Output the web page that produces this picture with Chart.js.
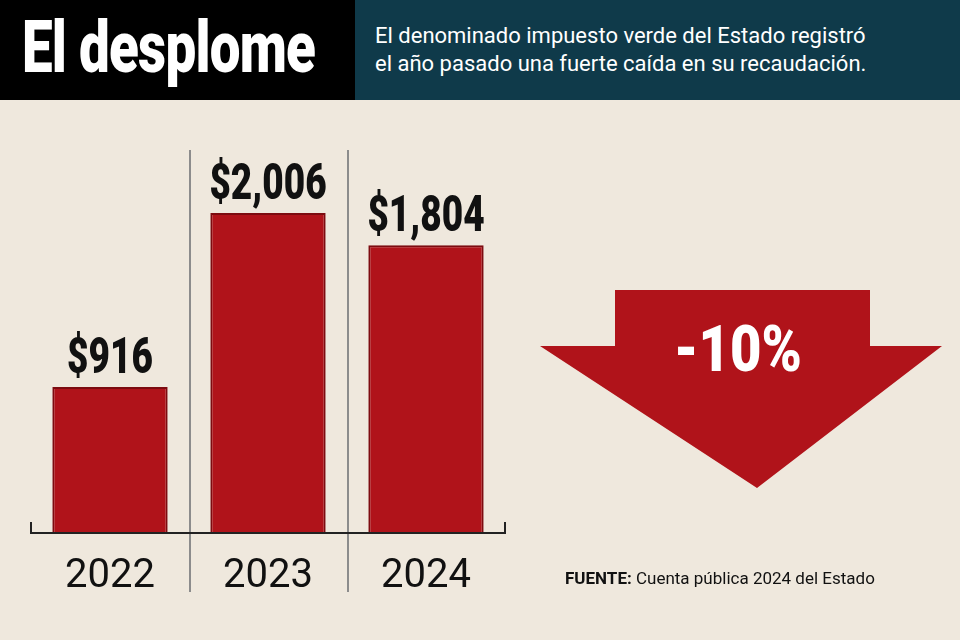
<!DOCTYPE html>
<html lang="es">
<head>
<meta charset="UTF-8">
<title>El desplome</title>
<script src="https://cdn.jsdelivr.net/npm/chart.js"></script>
<style>
  body { margin: 0; width: 960px; height: 640px; background: #efe8dd; font-family: Roboto, "Noto Sans", sans-serif; overflow: hidden; position: relative; }
  #hdrL { position: absolute; left: 0; top: 0; width: 355px; height: 100px; background: #000; overflow: hidden; }
  #hdrL span { position: absolute; left: 22px; top: 8px; color: #fff; white-space: nowrap;
    font: 900 72px Roboto, sans-serif; line-height: 80px; letter-spacing: -1px; transform: scaleX(0.76); transform-origin: left top; }
  #hdrR { position: absolute; left: 355px; top: 0; width: 605px; height: 100px; background: #0f3a4a; color: #fff;
    font-size: 22px; line-height: 28px; padding: 22px 0 0 20px; box-sizing: border-box; }
  #wrap { position: absolute; left: 0; top: 0; width: 960px; height: 640px; }
</style>
</head>
<body>
<div id="wrap"><canvas id="c" width="960" height="640"></canvas></div>
<div id="hdrL"><span>El desplome</span></div>
<div id="hdrR">El denominado impuesto verde del Estado registró<br>el año pasado una fuerte caída en su recaudación.</div>
<script>
// datos (millones de pesos)
const years = ['2022', '2023', '2024'];
const values = [916, 2006, 1804];
const valueLabels = ['$916', '$2,006', '$1,804'];
const changeLabel = '-10%';

function narrowText(ctx, txt, x, y, sx) {
  ctx.save(); ctx.translate(x, y); ctx.scale(sx, 1); ctx.fillText(txt, 0, 0); ctx.restore();
}

const deco = {
  id: 'deco',
  afterDatasetsDraw(chart) {
    const ctx = chart.ctx, x = chart.scales.x, a = chart.chartArea;
    ctx.save();
    // separators
    ctx.strokeStyle = '#8c8c8c'; ctx.lineWidth = 2;
    [190, 348].forEach(px => { ctx.beginPath(); ctx.moveTo(px, 150); ctx.lineTo(px, 592); ctx.stroke(); });
    // baseline
    ctx.strokeStyle = '#222'; ctx.lineWidth = 2;
    ctx.beginPath(); ctx.moveTo(31, 522); ctx.lineTo(31, a.bottom); ctx.lineTo(505, a.bottom); ctx.lineTo(505, 522); ctx.stroke();
    ctx.textAlign = 'center';
    years.forEach((y, i) => {
      const cx = x.getPixelForValue(i);
      const top = chart.getDatasetMeta(0).data[i].y;
      ctx.fillStyle = '#111';
      ctx.font = '900 50px Roboto, sans-serif';
      ctx.textBaseline = 'alphabetic';
      narrowText(ctx, valueLabels[i], cx, top - 14, 0.74);
      ctx.font = '40px Roboto, sans-serif';
      ctx.fillText(y, cx, 587);
    });
    // arrow
    ctx.fillStyle = '#b0131a';
    ctx.beginPath();
    ctx.moveTo(615, 290); ctx.lineTo(870, 290); ctx.lineTo(870, 346); ctx.lineTo(942, 346);
    ctx.lineTo(757, 488); ctx.lineTo(540, 346); ctx.lineTo(615, 346); ctx.closePath(); ctx.fill();
    ctx.fillStyle = '#fff';
    ctx.font = '900 64px Roboto, sans-serif';
    ctx.textBaseline = 'middle';
    narrowText(ctx, changeLabel, 738, 355, 0.85);
    // fuente
    ctx.textAlign = 'left'; ctx.textBaseline = 'alphabetic'; ctx.fillStyle = '#111';
    ctx.font = 'bold 17px Roboto, sans-serif';
    ctx.fillText('FUENTE:', 565, 584);
    const w = ctx.measureText('FUENTE: ').width;
    ctx.font = '17px Roboto, sans-serif';
    ctx.fillText('Cuenta pública 2024 del Estado', 565 + w, 584);
    ctx.restore();
  }
};

new Chart(document.getElementById('c'), {
  type: 'bar',
  data: {
    labels: years,
    datasets: [{
      data: values,
      backgroundColor: '#b0131a',
      borderColor: '#7d0b10',
      borderWidth: 2,
      categoryPercentage: 1,
      barPercentage: 0.73
    }]
  },
  options: {
    responsive: false,
    animation: false,
    layout: { padding: { left: 31, right: 455, top: 130, bottom: 107 } },
    plugins: { legend: { display: false }, tooltip: { enabled: false } },
    scales: {
      x: { display: false },
      y: { display: false, min: 0, max: 2527 }
    }
  },
  plugins: [deco]
});
</script>
</body>
</html>
